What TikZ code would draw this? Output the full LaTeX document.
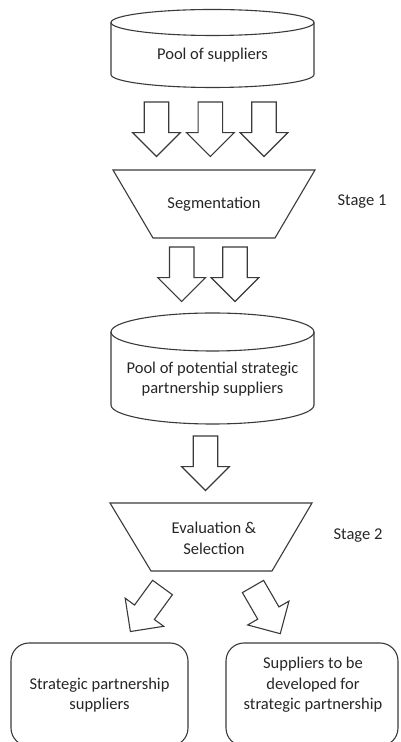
\documentclass[tikz,border=0pt]{standalone}
\usepackage{fontspec}
\setmainfont{Carlito}
\usetikzlibrary{shapes.arrows}
\definecolor{ln}{HTML}{3A3A3A}
\definecolor{tx}{HTML}{262626}
\tikzset{
  outl/.style={draw=ln, line width=1.1pt, line join=miter},
  blk/.style={single arrow, draw=ln, line width=1.1pt, fill=white, minimum height=54.5pt,
    minimum width=46.5pt, single arrow head extend=11.6pt, inner xsep=0pt, inner ysep=11.7pt,
    outer sep=0pt, anchor=tail},
  lbl/.style={text=tx, font=\fontsize{16.5}{20.5}\selectfont, align=center, inner sep=0pt},
}
\begin{document}
\begin{tikzpicture}[x=1pt,y=1pt]
\useasboundingbox (0,0) rectangle (401,742);
% Cylinder 1
\draw[outl] (212.5,719.5) ellipse [x radius=101.5, y radius=13];
\draw[outl] (111,719.5) -- (111,667.5) arc [start angle=180, end angle=360, x radius=101.5, y radius=13] -- (314,719.5);
\node[lbl] (pool) at (212.5,687) {Pool of suppliers};
% arrows row 1
\node[blk, rotate=-90] (a1) at (156.5,640) {};
\node[blk, rotate=-90] (a2) at (210.3,640) {};
\node[blk, rotate=-90] (a3) at (264,640) {};
% Trapezoid 1
\draw[outl] (113,572) -- (315,572) -- (275,504) -- (153,504) -- cycle;
\node[lbl] (seg) at (214,538) {Segmentation};
\node[lbl] (st1) at (362,540) {Stage 1};
% arrows row 2
\node[blk, rotate=-90] (b1) at (181.7,495) {};
\node[blk, rotate=-90] (b2) at (235,495) {};
% Cylinder 2
\draw[outl] (212.5,410) ellipse [x radius=101.5, y radius=19];
\draw[outl] (111,410) -- (111,337) arc [start angle=180, end angle=360, x radius=101.5, y radius=19] -- (314,410);
\node[lbl] (pool2) at (212.5,363) {Pool of potential strategic\\partnership suppliers};
% arrow 3
\node[blk, rotate=-90] (c1) at (205.5,306) {};
% Trapezoid 2
\draw[outl] (110,239) -- (312,239) -- (272,171) -- (151,171) -- cycle;
\node[lbl] (eval) at (214,203.5) {Evaluation \&\\Selection};
\node[lbl] (st2) at (358,206) {Stage 2};
% diagonal arrows
\node[blk, rotate=233.9] (d1) at (162.5,154.5) {};
\node[blk, rotate=300] (d2) at (253,155.5) {};
% boxes
\draw[outl, rounded corners=18pt] (11,-4) rectangle (188,99);
\draw[outl, rounded corners=18pt] (226,-4) rectangle (398,99);
\node[lbl] (sps) at (99.5,47) {Strategic partnership\\suppliers};
\node[lbl] (dev) at (313,57) {Suppliers to be\\developed for\\strategic partnership};
\end{tikzpicture}
\end{document}
